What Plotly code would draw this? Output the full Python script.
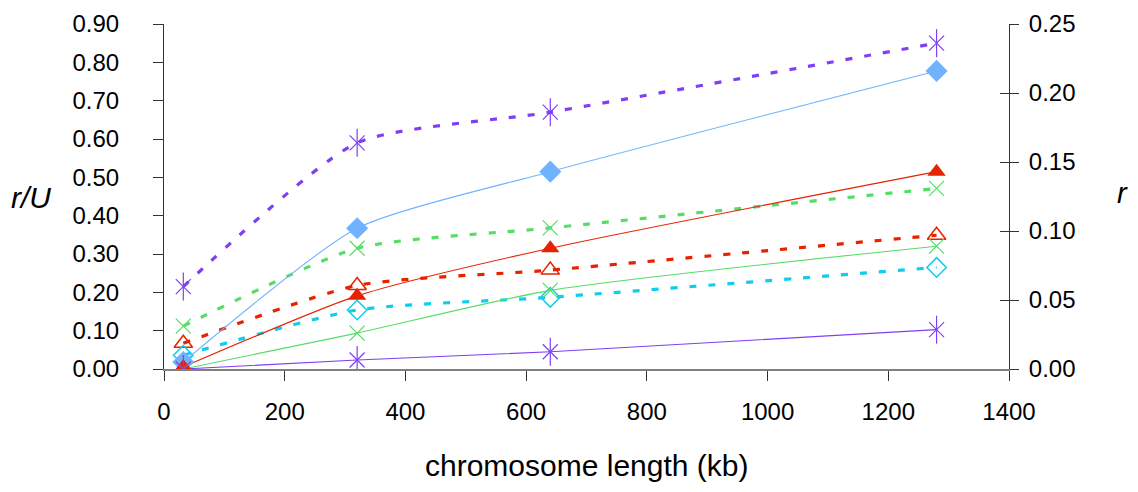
import plotly.graph_objects as go

# chromosome length (kb)
x_kb = [32, 320, 640, 1280]

# r/U series (left axis, dashed lines)
rU_purple = [0.215, 0.59, 0.67, 0.85]
rU_green = [0.112, 0.315, 0.368, 0.471]
rU_red = [0.067, 0.218, 0.258, 0.349]
rU_cyan = [0.036, 0.154, 0.187, 0.265]

# r series (right axis, solid lines)
r_blue = [0.005, 0.102, 0.143, 0.216]
r_red = [0.0015, 0.053, 0.0875, 0.143]
r_green = [0.0, 0.026, 0.057, 0.089]
r_purple = [0.0, 0.0065, 0.0125, 0.0285]

x_ticks = [0, 200, 400, 600, 800, 1000, 1200, 1400]
left_ticks = [0.0, 0.1, 0.2, 0.3, 0.4, 0.5, 0.6, 0.7, 0.8, 0.9]
right_ticks = [0.0, 0.05, 0.10, 0.15, 0.20, 0.25]

PURPLE = "#7f3ff5"
GREEN = "#55dd66"
RED = "#e62200"
CYAN = "#10ccee"
BLUE = "#6fb3ff"
FONT = "Liberation Sans, Arial, sans-serif"

fig = go.Figure()


def line_trace(y, color, width, dash, yaxis):
    return go.Scatter(x=x_kb, y=y, mode="lines", yaxis=yaxis,
                      line=dict(color=color, width=width, dash=dash,
                                shape="spline", smoothing=0.6),
                      hoverinfo="skip", showlegend=False)


def marker_trace(y, color, symbol, size, yaxis, lw=1.2):
    m = dict(symbol=symbol, size=size, color=color,
             line=dict(color=color, width=lw))
    return go.Scatter(x=x_kb, y=y, mode="markers", yaxis=yaxis, marker=m,
                      showlegend=False)


DASH = "7px,12px"
# dashed r/U lines (left axis)
for y, c in [(rU_purple, PURPLE), (rU_green, GREEN), (rU_red, RED), (rU_cyan, CYAN)]:
    fig.add_trace(line_trace(y, c, 3.2, DASH, "y"))
# solid r lines (right axis)
for y, c in [(r_blue, BLUE), (r_red, RED), (r_green, GREEN), (r_purple, PURPLE)]:
    fig.add_trace(line_trace(y, c, 1.1, "solid", "y2"))

# markers r/U
fig.add_trace(marker_trace(rU_purple, PURPLE, "x-thin-open", 15, "y"))
fig.add_trace(marker_trace(rU_purple, PURPLE, "line-ns-open", 20, "y"))
fig.add_trace(marker_trace(rU_green, GREEN, "x-thin-open", 15, "y"))
fig.add_trace(marker_trace(rU_red, RED, "triangle-up-open", 16, "y", lw=1.5))
fig.add_trace(marker_trace(rU_cyan, CYAN, "diamond-open", 15, "y", lw=1.5))
# markers r
fig.add_trace(marker_trace(r_blue, BLUE, "diamond", 17, "y2", lw=0))
fig.add_trace(marker_trace(r_red, RED, "triangle-up", 16, "y2", lw=0))
fig.add_trace(marker_trace(r_green, GREEN, "x-thin-open", 15, "y2"))
fig.add_trace(marker_trace(r_purple, PURPLE, "x-thin-open", 15, "y2"))
fig.add_trace(marker_trace(r_purple, PURPLE, "line-ns-open", 20, "y2"))

tickfont = dict(family=FONT, size=24, color="#000000")

# page body has an 8px default margin; compensate so the plot lands in place
fig.update_layout(
    width=1130, height=484,
    margin=dict(l=156, r=129, t=16, b=123, autoexpand=False),
    paper_bgcolor="white", plot_bgcolor="white",
    showlegend=False,
    xaxis=dict(range=[0, 1400], tickvals=x_ticks, ticks="outside", ticklen=10,
               tickcolor="#333333", showgrid=False, zeroline=False,
               showline=True, linecolor="#808080", linewidth=2,
               tickfont=tickfont, ticklabelstandoff=10, automargin=False),
    yaxis=dict(range=[0, 0.9], tickvals=left_ticks, tickformat=".2f",
               ticks="outside", ticklen=10, tickcolor="#333333",
               showgrid=False, zeroline=False, showline=True,
               linecolor="#333333", linewidth=1, tickfont=tickfont,
               ticklabelstandoff=29, automargin=False),
    yaxis2=dict(range=[0, 0.25], tickvals=right_ticks, tickformat=".2f",
                overlaying="y", side="right", anchor="x",
                ticks="outside", ticklen=9, tickcolor="#333333",
                showgrid=False, zeroline=False, showline=True,
                linecolor="#333333", linewidth=1, tickfont=tickfont,
                ticklabelstandoff=5, automargin=False),
    yaxis3=dict(range=[0, 0.25], tickvals=right_ticks, overlaying="y",
                side="right", anchor="x", ticks="inside", ticklen=9,
                tickcolor="#333333", showticklabels=False, showgrid=False,
                zeroline=False, showline=False, automargin=False),
    annotations=[
        dict(text="chromosome length (kb)", xref="paper", yref="paper",
             x=0.5, y=-0.28, xanchor="center", yanchor="middle",
             showarrow=False, font=dict(family=FONT, size=30, color="#000")),
        dict(text="<i>r/U</i>", xref="paper", yref="paper",
             x=-0.184, y=0.496, xanchor="left", yanchor="middle",
             showarrow=False, font=dict(family=FONT, size=30, color="#000")),
        dict(text="<i>r</i>", xref="paper", yref="paper",
             x=1.134, y=0.51, xanchor="center", yanchor="middle",
             showarrow=False, font=dict(family=FONT, size=29, color="#000")),
    ],
)
# invisible trace to activate yaxis3
fig.add_trace(go.Scatter(x=[0], y=[0], yaxis="y3", mode="markers",
                         marker=dict(opacity=0), hoverinfo="skip",
                         showlegend=False))

fig.write_html("out.html")
